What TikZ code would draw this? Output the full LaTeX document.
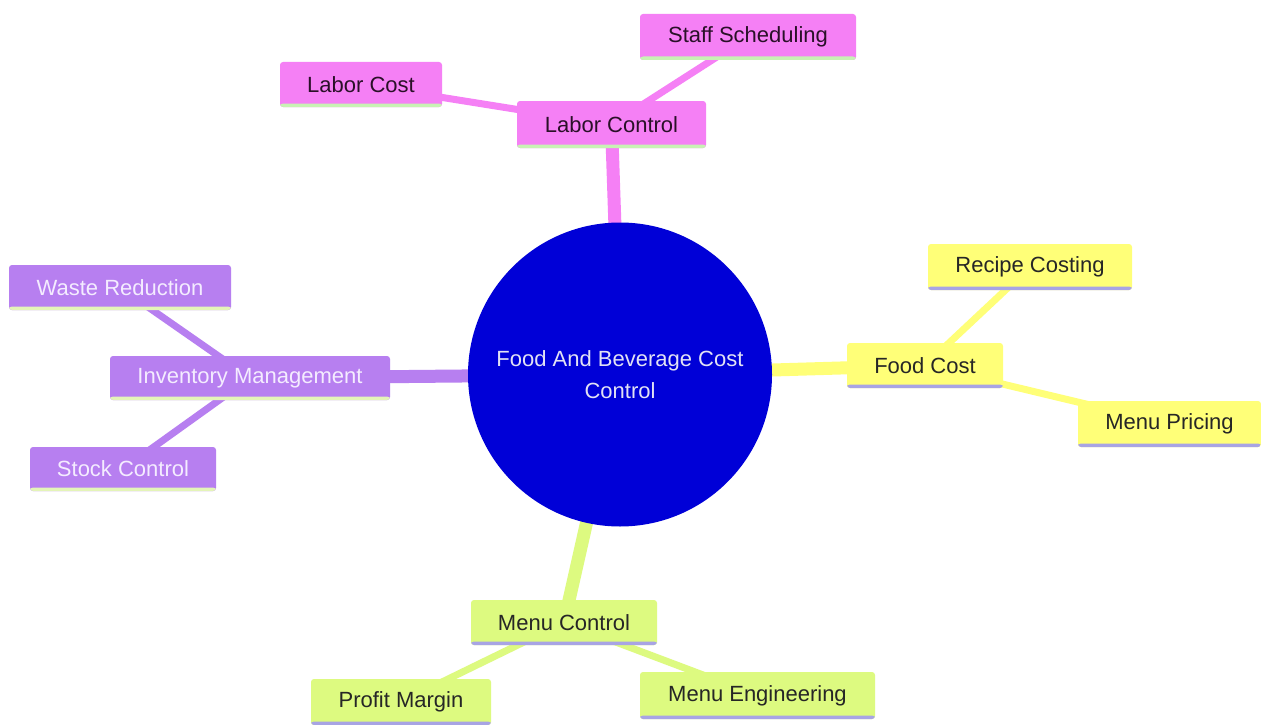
\documentclass[tikz,border=0pt]{standalone}
\usepackage{fontspec}
\setmainfont{Liberation Sans}
\pgfdeclarelayer{bg}
\pgfsetlayers{bg,main}
\definecolor{cblue}{HTML}{0000D7}
\definecolor{cpink}{HTML}{F580F5}
\definecolor{cpurple}{HTML}{B77FF0}
\definecolor{cyellow}{HTML}{FFFF78}
\definecolor{cgreen}{HTML}{DDFA80}
\definecolor{ulgreen}{HTML}{C8F2B4}
\definecolor{ullav}{HTML}{A8A4E4}
\definecolor{ulyg}{HTML}{E4F4B8}
\definecolor{tdark}{HTML}{2A1028}
\definecolor{tlight}{HTML}{F4ECFF}
\definecolor{tcircle}{HTML}{E2E2F4}
\tikzset{
  box/.style={rectangle, rounded corners=3pt, inner sep=0pt, font=\fontsize{22}{26}\selectfont},
  ul/.style={path picture={\fill[#1] ([yshift=0pt]path picture bounding box.south west) rectangle ([yshift=3.5pt]path picture bounding box.south east);}},
  pinkbox/.style={box, fill=cpink, text=tdark, ul=ulgreen},
  purplebox/.style={box, fill=cpurple, text=tlight, ul=ulyg},
  yellowbox/.style={box, fill=cyellow, text=black!85, ul=ullav},
  greenbox/.style={box, fill=cgreen, text=black!85, ul=ullav},
  mainedge/.style={line width=13pt, #1},
  subedge/.style={line width=7pt, #1},
}
\begin{document}
\begin{tikzpicture}[x=1pt,y=-1pt]
\useasboundingbox (0,0) rectangle (1261,725);
% root
\node[circle, fill=cblue, minimum size=304pt, inner sep=0pt, text=tcircle, align=center,
      font=\fontsize{22}{32}\selectfont] (root) at (620,374.5) {Food And Beverage Cost\\Control};
% Labor
\node[pinkbox, minimum width=189pt, minimum height=47pt] (labctl) at (611.5,124.5) {Labor Control};
\node[pinkbox, minimum width=162pt, minimum height=45pt] (labcost) at (361,84.5) {Labor Cost};
\node[pinkbox, minimum width=216pt, minimum height=46pt] (staff) at (748,37) {Staff Scheduling};
% Inventory
\node[purplebox, minimum width=280pt, minimum height=44pt] (inv) at (250,378) {Inventory Management};
\node[purplebox, minimum width=222pt, minimum height=45pt] (waste) at (120,287.5) {Waste Reduction};
\node[purplebox, minimum width=186pt, minimum height=44pt] (stock) at (123,469) {Stock Control};
% Food
\node[yellowbox, minimum width=156pt, minimum height=45pt] (food) at (925,365.5) {Food Cost};
\node[yellowbox, minimum width=204pt, minimum height=46pt] (recipe) at (1030,267) {Recipe Costing};
\node[yellowbox, minimum width=183pt, minimum height=46pt] (pricing) at (1169.5,424) {Menu Pricing};
% Menu
\node[greenbox, minimum width=186pt, minimum height=45pt] (menuctl) at (564,622.5) {Menu Control};
\node[greenbox, minimum width=180pt, minimum height=46pt] (profit) at (401,702) {Profit Margin};
\node[greenbox, minimum width=235pt, minimum height=47pt] (engin) at (757.5,695.5) {Menu Engineering};
\begin{pgfonlayer}{bg}
\fill[white] (0,0) rectangle (1261,725);
\draw[mainedge=cpink] (root.center) -- (labctl.center);
\draw[subedge=cpink] (labctl.center) -- (labcost.center);
\draw[subedge=cpink] (labctl.center) -- (staff.center);
\draw[mainedge=cpurple] (root.center) -- (inv.center);
\draw[subedge=cpurple] (inv.center) -- (waste.center);
\draw[subedge=cpurple] (inv.center) -- (stock.center);
\draw[mainedge=cyellow] (root.center) -- (food.center);
\draw[subedge=cyellow] (food.center) -- (recipe.center);
\draw[subedge=cyellow] (food.center) -- (pricing.center);
\draw[mainedge=cgreen] (root.center) -- (menuctl.center);
\draw[subedge=cgreen] (menuctl.center) -- (profit.center);
\draw[subedge=cgreen] (menuctl.center) -- (engin.center);
\end{pgfonlayer}
\end{tikzpicture}
\end{document}
